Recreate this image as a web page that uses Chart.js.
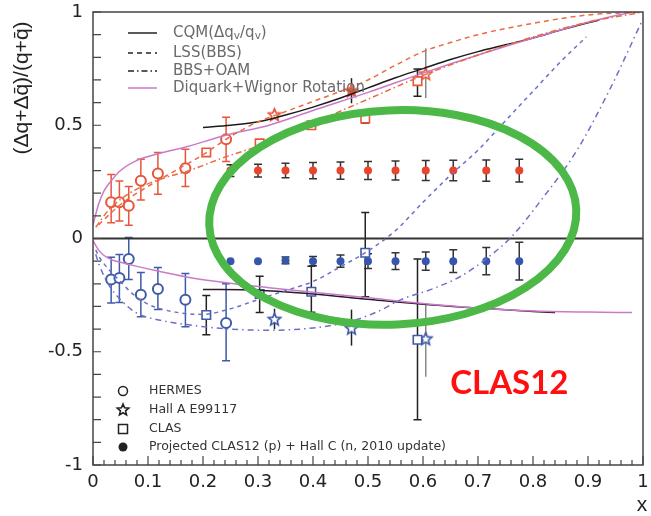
<!DOCTYPE html>
<html>
<head>
<meta charset="utf-8">
<script src="https://cdn.jsdelivr.net/npm/chart.js"></script>
<style>
  html, body { margin: 0; padding: 0; background: #fff; }
  canvas { display: block; }
</style>
</head>
<body>
<canvas id="asym" width="651" height="516"></canvas>
<script>
// ---- measured points: proton (upper half) and neutron (lower half) ----
const hermesX   = [0.033, 0.048, 0.065, 0.087, 0.118, 0.168, 0.242];
const hermesP   = [0.16, 0.16, 0.145, 0.255, 0.287, 0.31, 0.438];
const hermesPLo = [0.07, 0.077, 0.058, 0.17, 0.195, 0.23, 0.34];
const hermesPHi = [0.283, 0.254, 0.23, 0.35, 0.38, 0.394, 0.535];
const hermesN   = [-0.181, -0.174, -0.09, -0.248, -0.223, -0.27, -0.373];
const hermesNLo = [-0.285, -0.283, -0.181, -0.345, -0.314, -0.39, -0.54];
const hermesNHi = [-0.083, -0.071, 0.004, -0.15, -0.128, -0.155, -0.2];

const clasX   = [0.206, 0.303, 0.397, 0.495, 0.59];
const clasP   = [0.38, 0.42, 0.50, 0.53, 0.695];
const clasPLo = [null, null, null, 0.51, 0.628];
const clasPHi = [null, null, null, 0.55, 0.748];
const clasN   = [-0.338, -0.245, -0.235, -0.063, -0.447];
const clasNLo = [-0.425, -0.327, -0.326, -0.257, -0.80];
const clasNHi = [-0.252, -0.167, -0.122, 0.115, -0.09];

const hallAX   = [0.33, 0.47, 0.605];
const hallAP   = [0.549, 0.655, 0.73];
const hallAPLo = [null, 0.597, 0.62];
const hallAPHi = [null, 0.708, 0.84];
const hallAN   = [-0.354, -0.394, -0.44];
const hallANLo = [-0.40, -0.473, -0.61];
const hallANHi = [-0.31, -0.314, -0.29];

// projected CLAS12 + Hall C
const projX    = [0.25, 0.30, 0.35, 0.40, 0.45, 0.50, 0.55, 0.605, 0.655, 0.715, 0.775];
const projP    = [0.30, 0.30, 0.30, 0.30, 0.30, 0.30, 0.30, 0.30, 0.30, 0.30, 0.30];
const projPErr = [0.026, 0.028, 0.032, 0.036, 0.038, 0.04, 0.042, 0.044, 0.045, 0.047, 0.05];
const projN    = [-0.10, -0.10, -0.097, -0.10, -0.10, -0.10, -0.10, -0.10, -0.10, -0.10, -0.10];
const projNErr = [0, 0, 0.015, 0.02, 0.027, 0.033, 0.037, 0.04, 0.05, 0.06, 0.083];

// ---- model curves ----
const cqmPX = [0.20, 0.25, 0.30, 0.35, 0.40, 0.45, 0.50, 0.55, 0.60, 0.65, 0.70, 0.75, 0.80, 0.85, 0.92];
const cqmPY = [0.49, 0.50, 0.515, 0.545, 0.58, 0.62, 0.665, 0.71, 0.75, 0.79, 0.825, 0.855, 0.885, 0.92, 0.965];
const cqmNX = [0.20, 0.30, 0.40, 0.50, 0.60, 0.70, 0.80, 0.84];
const cqmNY = [-0.225, -0.228, -0.245, -0.268, -0.29, -0.307, -0.322, -0.327];

const lssPX = [0.01, 0.05, 0.10, 0.15, 0.20, 0.25, 0.30, 0.35, 0.40, 0.45, 0.50, 0.55, 0.60, 0.65, 0.70, 0.80, 0.90, 1.0];
const lssPY = [0.06, 0.15, 0.23, 0.30, 0.37, 0.45, 0.515, 0.56, 0.605, 0.65, 0.70, 0.765, 0.825, 0.865, 0.90, 0.95, 0.987, 1.0];
const lssNX = [0.005, 0.011, 0.03, 0.05, 0.07, 0.10, 0.15, 0.20, 0.25, 0.30, 0.35, 0.40, 0.45, 0.50, 0.55, 0.60, 0.65, 0.70, 0.75, 0.80, 0.85, 0.897];
const lssNY = [-0.05, -0.08, -0.14, -0.19, -0.24, -0.29, -0.325, -0.335, -0.31, -0.27, -0.23, -0.19, -0.125, -0.055, 0.035, 0.16, 0.28, 0.39, 0.52, 0.65, 0.78, 0.89];

const oamPX = [0.005, 0.03, 0.06, 0.085, 0.12, 0.175, 0.235, 0.32, 0.40, 0.50, 0.60, 0.70, 0.80, 0.90, 1.0];
const oamPY = [0.05, 0.13, 0.19, 0.225, 0.26, 0.30, 0.355, 0.425, 0.51, 0.615, 0.72, 0.81, 0.89, 0.955, 1.0];
const oamNX = [0.005, 0.011, 0.03, 0.05, 0.08, 0.12, 0.17, 0.25, 0.32, 0.40, 0.47, 0.52, 0.56, 0.62, 0.67, 0.72, 0.76, 0.815, 0.88, 0.94, 1.0];
const oamNY = [-0.07, -0.115, -0.21, -0.27, -0.33, -0.36, -0.38, -0.40, -0.405, -0.395, -0.365, -0.32, -0.27, -0.22, -0.165, -0.08, 0.005, 0.17, 0.39, 0.66, 0.97];

const dqPX = [0.0, 0.01, 0.02, 0.035, 0.05, 0.08, 0.12, 0.17, 0.24, 0.32, 0.40, 0.50, 0.60, 0.70, 0.80, 0.90, 0.98];
const dqPY = [0.06, 0.15, 0.21, 0.26, 0.30, 0.345, 0.375, 0.405, 0.455, 0.50, 0.565, 0.645, 0.73, 0.81, 0.885, 0.955, 1.0];
const dqNX = [0.0, 0.01, 0.02, 0.035, 0.05, 0.08, 0.12, 0.17, 0.25, 0.32, 0.40, 0.50, 0.60, 0.70, 0.80, 0.90, 0.98];
const dqNY = [-0.01, -0.05, -0.075, -0.095, -0.105, -0.123, -0.145, -0.17, -0.198, -0.217, -0.237, -0.262, -0.287, -0.307, -0.32, -0.325, -0.327];

// ---- legend text ----
const curveLabels = ['CQM(Δq_v/q_v)', 'LSS(BBS)', 'BBS+OAM', 'Diquark+Wignor Rotation'];
const dataLabels = ['HERMES', 'Hall A E99117', 'CLAS', 'Projected CLAS12 (p) + Hall C (n, 2010 update)'];

const RED = '#e8553a';
const BLUE = '#3f5aa8';
const RED_CURVE = '#ea6a44';
const BLUE_CURVE = '#6c70c4';
const MAGENTA = '#c97ac9';

const pts = (xs, ys) => xs.map((v, i) => ({ x: v, y: ys[i] }));
const sym = (vals, errs, sign) => vals.map((v, i) => errs[i] ? v + sign * errs[i] : null);

// five point star used for the Hall A markers
function starImage(color, r, filled) {
  const c = document.createElement('canvas');
  const s = Math.ceil(r * 2 + 4);
  c.width = s; c.height = s;
  const g = c.getContext('2d');
  g.translate(s / 2, s / 2 + 1);
  g.beginPath();
  for (let k = 0; k < 10; k++) {
    const rad = k % 2 ? r * 0.45 : r;
    const a = -Math.PI / 2 + k * Math.PI / 5;
    g.lineTo(rad * Math.cos(a), rad * Math.sin(a));
  }
  g.closePath();
  g.fillStyle = filled ? color : '#fff';
  g.fill();
  g.strokeStyle = color;
  g.lineWidth = 1.6;
  g.stroke();
  return c;
}

function curve(xs, ys, color, dash) {
  return {
    data: pts(xs, ys), showLine: true, pointRadius: 0, borderColor: color,
    borderWidth: 1.5, borderDash: dash, cubicInterpolationMode: 'monotone', fill: false
  };
}

const datasets = [
  curve(lssNX, lssNY, BLUE_CURVE, [4, 4]),
  curve(oamNX, oamNY, BLUE_CURVE, [6, 4, 1.5, 4]),
  curve(lssPX, lssPY, RED_CURVE, [5, 4]),
  curve(oamPX, oamPY, RED_CURVE, [6, 3, 1.5, 3]),
  curve(dqPX, dqPY, MAGENTA, []),
  curve(dqNX, dqNY, MAGENTA, []),
  curve(cqmPX, cqmPY, '#1b1b1b', []),
  curve(cqmNX, cqmNY, '#2a1a2a', []),
  { data: pts(hermesX, hermesP), errLo: hermesPLo, errHi: hermesPHi, errColor: RED, errCap: 8,
    pointStyle: 'circle', pointRadius: 5, borderWidth: 2, borderColor: RED, backgroundColor: '#fff' },
  { data: pts(hermesX, hermesN), errLo: hermesNLo, errHi: hermesNHi, errColor: BLUE, errCap: 8,
    pointStyle: 'circle', pointRadius: 5, borderWidth: 2, borderColor: BLUE, backgroundColor: '#fff' },
  { data: pts(clasX, clasP), errLo: clasPLo, errHi: clasPHi, errColor: '#222', errCap: 8,
    pointStyle: 'rect', pointRadius: 6, borderWidth: 1.6, borderColor: RED, backgroundColor: '#fff' },
  { data: pts(clasX, clasN), errLo: clasNLo, errHi: clasNHi, errColor: '#222', errCap: 8,
    pointStyle: 'rect', pointRadius: 6, borderWidth: 1.6, borderColor: BLUE, backgroundColor: '#fff' },
  { data: pts(hallAX, hallAP), errLo: hallAPLo, errHi: hallAPHi, errColor: ['#222', '#222', '#888'], errCap: 0,
    pointStyle: [starImage(RED, 6.5, false), starImage(RED, 6.5, true), starImage(RED, 6.5, false)], pointRadius: 7 },
  { data: pts(hallAX, hallAN), errLo: hallANLo, errHi: hallANHi, errColor: ['#223', '#222', '#888'], errCap: 0,
    pointStyle: starImage(BLUE, 6.5, false), pointRadius: 7 },
  { data: pts(projX, projP), errLo: sym(projP, projPErr, -1), errHi: sym(projP, projPErr, 1), errColor: '#333', errCap: 8,
    pointStyle: 'circle', pointRadius: 4, borderWidth: 0, backgroundColor: '#e8452c' },
  { data: pts(projX, projN), errLo: sym(projN, projNErr, -1), errHi: sym(projN, projNErr, 1), errColor: '#333', errCap: 8,
    pointStyle: 'circle', pointRadius: 4, borderWidth: 0, backgroundColor: '#3556ac' }
];

// vertical error bars drawn under the markers
const errorBars = {
  id: 'errorBars',
  beforeDatasetsDraw(chart) {
    const { ctx, scales: { y } } = chart;
    ctx.save();
    ctx.lineWidth = 1.5;
    chart.data.datasets.forEach((ds, i) => {
      if (!ds.errLo) return;
      const meta = chart.getDatasetMeta(i);
      meta.data.forEach((el, j) => {
        const lo = ds.errLo[j], hi = ds.errHi[j];
        if (lo == null || hi == null) return;
        const y1 = y.getPixelForValue(lo), y2 = y.getPixelForValue(hi);
        ctx.strokeStyle = Array.isArray(ds.errColor) ? ds.errColor[j] : ds.errColor;
        ctx.beginPath();
        ctx.moveTo(el.x, y1); ctx.lineTo(el.x, y2);
        if (ds.errCap) {
          const h = ds.errCap / 2;
          ctx.moveTo(el.x - h, y1); ctx.lineTo(el.x + h, y1);
          ctx.moveTo(el.x - h, y2); ctx.lineTo(el.x + h, y2);
        }
        ctx.stroke();
      });
    });
    ctx.restore();
  }
};

// zero line, framed box and inward ticks
const frame = {
  id: 'frame',
  beforeDatasetsDraw(chart) {
    const { ctx, chartArea: a, scales: { y } } = chart;
    ctx.save();
    ctx.strokeStyle = '#333';
    ctx.lineWidth = 2;
    ctx.beginPath();
    ctx.moveTo(a.left, y.getPixelForValue(0));
    ctx.lineTo(a.right, y.getPixelForValue(0));
    ctx.stroke();
    ctx.restore();
  },
  afterDatasetsDraw(chart) {
    const { ctx, chartArea: a, scales: { x, y } } = chart;
    ctx.save();
    ctx.strokeStyle = '#444';
    ctx.lineWidth = 1.5;
    ctx.strokeRect(a.left, a.top, a.right - a.left, a.bottom - a.top);
    ctx.lineWidth = 1.2;
    ctx.beginPath();
    for (let k = -10; k <= 10; k++) {
      const py = y.getPixelForValue(k / 10);
      ctx.moveTo(a.left, py); ctx.lineTo(a.left + 8, py);
    }
    for (let k = 0; k <= 50; k++) {
      const px = x.getPixelForValue(k / 50);
      ctx.moveTo(px, a.bottom); ctx.lineTo(px, a.bottom - (k % 5 === 0 ? 9 : 5));
    }
    ctx.stroke();
    ctx.restore();
  }
};

// text with "_c" subscripts
function richText(ctx, text, x, y, size, family) {
  const parts = text.split(/(_.)/);
  parts.forEach(p => {
    if (p.startsWith('_')) {
      ctx.font = `${size * 0.7}px ${family}`;
      ctx.fillText(p[1], x, y + size * 0.25);
      x += ctx.measureText(p[1]).width;
    } else if (p) {
      ctx.font = `${size}px ${family}`;
      ctx.fillText(p, x, y);
      x += ctx.measureText(p).width;
    }
  });
}

// highlight ring and labels
const overlay = {
  id: 'overlay',
  afterDraw(chart, args, opts) {
    const { ctx, chartArea: a, scales: { x, y } } = chart;
    ctx.save();

    // curve legend, top left
    const styles = [
      { c: '#222', d: [] }, { c: '#222', d: [5, 4] }, { c: '#222', d: [6, 3, 1.5, 3] }, { c: MAGENTA, d: [] }
    ];
    const rowY = [21, 41, 59, 76];
    ctx.lineWidth = 1.5;
    ctx.textBaseline = 'middle';
    curveLabels.forEach((t, i) => {
      ctx.strokeStyle = styles[i].c;
      ctx.setLineDash(styles[i].d);
      ctx.beginPath();
      ctx.moveTo(a.left + 35, a.top + rowY[i]);
      ctx.lineTo(a.left + 64, a.top + rowY[i]);
      ctx.stroke();
      ctx.fillStyle = '#6a6a6a';
      richText(ctx, t, a.left + 80, a.top + rowY[i], 15, '"DejaVu Sans", sans-serif');
    });
    ctx.setLineDash([]);

    // data legend, bottom left
    const legY = [a.bottom - 74, a.bottom - 55, a.bottom - 36, a.bottom - 18];
    const mx = a.left + 30;
    ctx.strokeStyle = '#222';
    ctx.fillStyle = '#222';
    ctx.lineWidth = 1.5;
    ctx.beginPath(); ctx.arc(mx, legY[0], 4.5, 0, Math.PI * 2); ctx.stroke();
    ctx.drawImage(starImage('#222', 6, false), mx - 8, legY[1] - 9);
    ctx.strokeRect(mx - 4.5, legY[2] - 4.5, 9, 9);
    ctx.beginPath(); ctx.arc(mx, legY[3], 4.5, 0, Math.PI * 2); ctx.fill();
    ctx.fillStyle = '#333';
    ctx.font = '12.5px "DejaVu Sans", sans-serif';
    dataLabels.forEach((t, i) => ctx.fillText(t, a.left + 56, legY[i]));

    // green ring
    const cx = x.getPixelForValue(opts.ring.x), cy = y.getPixelForValue(opts.ring.y);
    const rx = x.getPixelForValue(opts.ring.x + opts.ring.rx) - cx;
    const ry = cy - y.getPixelForValue(opts.ring.y + opts.ring.ry);
    ctx.strokeStyle = '#4cb848';
    ctx.lineWidth = 8;
    ctx.beginPath();
    ctx.ellipse(cx, cy, rx, ry, opts.ring.rot * Math.PI / 180, 0, Math.PI * 2);
    ctx.stroke();

    // CLAS12 tag
    ctx.fillStyle = '#ff1010';
    ctx.font = 'bold 33px Lato, "Open Sans", sans-serif';
    ctx.textAlign = 'center';
    ctx.fillText('CLAS12', x.getPixelForValue(opts.tag.x), y.getPixelForValue(opts.tag.y));

    // axis titles
    ctx.fillStyle = '#222';
    ctx.font = '21px "Liberation Sans", Arial, sans-serif';
    ctx.fillText('x', a.right - 1, a.bottom + 40);
    ctx.translate(22, a.top + 76);
    ctx.rotate(-Math.PI / 2);
    ctx.fillText('(Δq+Δq̄)/(q+q̄)', 0, 0);
    ctx.restore();
  }
};

const tickFont = { family: '"DejaVu Sans"', size: 18 };

new Chart(document.getElementById('asym'), {
  type: 'scatter',
  data: { datasets },
  plugins: [errorBars, frame, overlay],
  options: {
    responsive: false,
    animation: false,
    layout: { padding: { left: 0, right: 5, top: 12, bottom: 0 } },
    plugins: {
      legend: { display: false },
      tooltip: { enabled: false },
      overlay: {
        ring: { x: 0.545, y: 0.093, rx: 0.334, ry: 0.473, rot: -2.5 },
        tag: { x: 0.757, y: -0.64 }
      }
    },
    scales: {
      x: {
        type: 'linear', min: 0, max: 1,
        afterFit: s => { s.height = 51; s.paddingLeft = 0; s.paddingRight = 0; },
        grid: { display: false, drawTicks: false },
        border: { display: false },
        ticks: { stepSize: 0.1, padding: 7, color: '#222', font: tickFont,
                 callback: v => String(Math.round(v * 10) / 10) }
      },
      y: {
        min: -1, max: 1,
        afterFit: s => { s.width = 93; s.paddingTop = 0; s.paddingBottom = 0; },
        grid: { display: false, drawTicks: false },
        border: { display: false },
        ticks: { stepSize: 0.5, padding: 10, color: '#222', font: tickFont,
                 callback: v => String(Math.round(v * 100) / 100) }
      }
    }
  }
});
</script>
</body>
</html>
